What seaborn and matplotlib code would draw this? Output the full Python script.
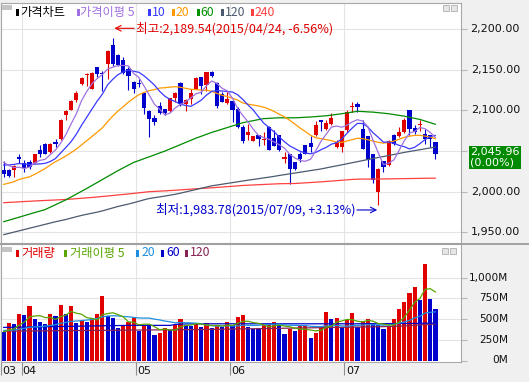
import matplotlib
matplotlib.use("Agg")
import matplotlib.pyplot as plt
import matplotlib.patches as mpatches
import matplotlib.lines as mlines
import matplotlib.transforms as mtransforms
import numpy as np
import pandas as pd
import seaborn as sns

# ---------------- data ----------------
month_labels = ["03", "04", "05", "06", "07"]
month_start_index = [0, 4, 26, 44, 66]

opens = [2027.3, 2027.3, 2027.3, 2042.4, 2035.9, 2036.7, 2035.5, 2051.0, 2059.2, 2048.9,
         2061.2, 2065.3, 2093.9, 2101.2, 2113.5, 2132.7, 2143.3, 2126.6, 2153.9, 2146.6,
         2157.2, 2180.9, 2168.6, 2162.1, 2151.1, 2135.5, 2134.3, 2121.2, 2099.2, 2090.6,
         2106.1, 2101.6, 2098.8, 2115.1, 2133.5, 2107.4, 2114.3, 2126.6, 2140.9, 2131.9,
         2147.0, 2134.3, 2120.4, 2109.0, 2111.4, 2102.0, 2079.6, 2069.4, 2062.4, 2069.4,
         2064.1, 2079.6, 2066.1, 2069.4, 2040.8, 2046.1, 2036.7, 2046.9, 2057.1, 2060.4,
         2069.4, 2087.7, 2076.7, 2082.8, 2055.1, 2055.1, 2075.5, 2104.1, 2107.4, 2076.7,
         2068.1, 2046.9, 1999.5, 2037.5, 2032.6, 2070.2, 2068.1, 2073.4, 2100.8, 2078.8,
         2081.6, 2071.4, 2069.4, 2060.8]
highs = [2037.5, 2028.5, 2032.6, 2046.9, 2038.7, 2038.7, 2047.0, 2057.1, 2060.0, 2060.0,
         2065.3, 2089.8, 2100.0, 2113.0, 2124.5, 2141.0, 2145.8, 2147.5, 2154.0, 2148.2,
         2174.3, 2189.54, 2169.0, 2165.4, 2153.1, 2136.8, 2138.8, 2122.5, 2100.0, 2093.9,
         2110.2, 2101.6, 2116.0, 2122.5, 2134.7, 2114.0, 2126.6, 2141.0, 2141.0, 2147.5,
         2149.0, 2134.7, 2122.5, 2122.5, 2112.3, 2104.1, 2081.6, 2083.7, 2068.5, 2069.5,
         2073.4, 2080.4, 2075.5, 2070.2, 2048.9, 2046.5, 2037.0, 2048.9, 2057.5, 2068.1,
         2086.9, 2088.0, 2087.7, 2096.7, 2063.2, 2075.0, 2100.0, 2111.0, 2110.2, 2087.7,
         2068.5, 2047.0, 2029.0, 2038.0, 2064.1, 2070.5, 2079.6, 2091.0, 2101.0, 2081.6,
         2088.6, 2077.5, 2069.5, 2061.0]
lows = [2018.3, 2017.5, 2018.3, 2035.5, 2024.4, 2028.5, 2035.0, 2042.8, 2046.0, 2048.0,
        2055.1, 2064.1, 2087.7, 2100.0, 2110.2, 2132.0, 2130.6, 2126.0, 2140.9, 2124.5,
        2138.8, 2155.1, 2155.0, 2145.0, 2125.7, 2121.2, 2128.6, 2095.9, 2067.3, 2081.6,
        2095.9, 2093.9, 2098.0, 2110.2, 2106.1, 2099.2, 2107.4, 2126.0, 2120.4, 2124.5,
        2140.9, 2103.3, 2110.0, 2107.4, 2085.7, 2079.0, 2060.0, 2063.2, 2062.0, 2056.3,
        2057.1, 2051.0, 2056.0, 2050.2, 2035.5, 2009.3, 2027.3, 2036.7, 2046.5, 2048.9,
        2068.1, 2074.7, 2075.5, 2081.6, 2054.2, 2048.9, 2073.4, 2098.0, 2098.0, 2052.5,
        2030.6, 2010.9, 1983.78, 2024.4, 2031.4, 2057.1, 2067.3, 2072.2, 2069.4, 2071.4,
        2074.7, 2059.2, 2055.1, 2040.8]
closes = [2021.6, 2019.5, 2031.8, 2040.8, 2029.3, 2030.6, 2046.1, 2046.1, 2046.9, 2059.2,
          2059.2, 2088.6, 2099.2, 2112.3, 2121.2, 2140.0, 2144.9, 2146.6, 2144.9, 2144.9,
          2173.5, 2157.2, 2156.0, 2145.8, 2142.5, 2126.6, 2132.7, 2103.3, 2089.8, 2085.7,
          2096.7, 2097.1, 2115.1, 2121.2, 2107.4, 2113.5, 2121.2, 2140.0, 2130.6, 2147.0,
          2142.9, 2106.1, 2110.2, 2114.7, 2101.2, 2079.6, 2062.0, 2073.0, 2068.1, 2064.5,
          2065.3, 2051.8, 2056.3, 2051.0, 2042.8, 2028.5, 2028.5, 2040.8, 2046.9, 2055.1,
          2081.6, 2085.7, 2084.9, 2090.6, 2061.2, 2074.7, 2098.0, 2105.3, 2104.1, 2053.0,
          2039.5, 2015.0, 2028.5, 2030.6, 2062.4, 2059.2, 2073.4, 2088.6, 2076.7, 2073.4,
          2083.7, 2065.3, 2065.3, 2045.96]
# closes before the visible window (only used for the 5/10/20 moving averages)
earlier_closes = [1990.0, 1995.0, 1985.0, 1995.0, 2000.0, 1985.0, 1975.0, 1975.0, 1970.0,
                  1980.0, 2020.0, 2025.0, 2030.0, 2035.0, 2038.0, 2040.0, 2044.0, 2039.0,
                  2037.0]
price_ma60 = [1963.0, 1964.8, 1966.7, 1968.6, 1970.5, 1972.4, 1974.3, 1976.1, 1978.0, 1981.0,
              1984.0, 1987.0, 1990.0, 1993.5, 1997.0, 2000.5, 2004.0, 2007.7, 2011.3, 2015.0,
              2018.7, 2022.3, 2026.0, 2029.3, 2032.7, 2036.0, 2038.3, 2040.7, 2043.0, 2045.3,
              2047.7, 2050.0, 2052.7, 2055.3, 2058.0, 2060.7, 2063.3, 2066.0, 2068.3, 2070.7,
              2073.0, 2075.0, 2077.0, 2079.0, 2081.0, 2083.0, 2085.0, 2086.3, 2087.5, 2088.8,
              2090.0, 2090.3, 2090.7, 2091.0, 2091.0, 2091.0, 2091.0, 2091.3, 2091.7, 2092.0,
              2092.5, 2093.0, 2093.5, 2094.3, 2095.2, 2096.0, 2097.0, 2098.0, 2099.0, 2098.7,
              2098.3, 2098.0, 2097.3, 2096.7, 2096.0, 2095.0, 2094.0, 2093.0, 2091.7, 2090.3,
              2089.0, 2087.0, 2085.0, 2083.0]
price_ma120 = [1947.0, 1948.6, 1950.2, 1951.8, 1953.4, 1955.0, 1956.6, 1958.2, 1959.8, 1961.4,
               1963.0, 1964.4, 1965.8, 1967.5, 1969.2, 1970.8, 1972.2, 1973.5, 1974.8, 1976.4,
               1978.2, 1980.0, 1981.8, 1983.3, 1984.8, 1986.4, 1988.2, 1990.0, 1991.6, 1992.6,
               1993.6, 1994.6, 1995.7, 1996.8, 1998.2, 1999.7, 2001.2, 2002.7, 2004.2, 2005.7,
               2007.2, 2008.2, 2009.2, 2010.2, 2011.2, 2012.2, 2013.2, 2014.2, 2015.1, 2016.0,
               2017.0, 2017.9, 2018.9, 2020.0, 2021.0, 2022.0, 2023.0, 2024.0, 2025.0, 2026.0,
               2027.0, 2028.0, 2029.3, 2030.6, 2031.8, 2033.1, 2034.4, 2035.7, 2037.0, 2038.3,
               2039.6, 2040.9, 2042.1, 2043.3, 2044.6, 2045.8, 2047.1, 2048.4, 2049.5, 2050.6,
               2051.7, 2052.8, 2053.9, 2055.0]
price_ma240 = [1986.4, 1986.8, 1987.1, 1987.5, 1987.9, 1988.2, 1988.6, 1988.9, 1989.2, 1989.5,
               1989.8, 1990.1, 1990.4, 1990.9, 1991.4, 1991.9, 1992.4, 1992.9, 1993.5, 1994.1,
               1994.7, 1995.3, 1996.0, 1996.6, 1997.2, 1997.9, 1998.6, 1999.3, 2000.0, 2000.3,
               2000.7, 2001.0, 2001.4, 2001.8, 2002.2, 2002.7, 2003.1, 2003.6, 2004.0, 2004.4,
               2004.8, 2005.3, 2005.7, 2006.2, 2006.7, 2007.2, 2007.7, 2008.0, 2008.3, 2008.6,
               2008.9, 2009.2, 2009.5, 2009.8, 2009.9, 2010.0, 2010.1, 2010.5, 2010.9, 2011.3,
               2011.7, 2012.1, 2012.6, 2013.1, 2013.6, 2014.1, 2014.6, 2015.1, 2015.4, 2015.5,
               2015.5, 2015.6, 2015.6, 2015.7, 2015.8, 2015.9, 2016.0, 2016.1, 2016.2, 2016.3,
               2016.4, 2016.5, 2016.6, 2016.7]

volumes = [345, 452, 440, 560, 548, 655, 500, 464, 440, 560,
           536, 667, 560, 655, 452, 476, 464, 512, 560, 774,
           536, 516, 401, 429, 468, 520, 361, 437, 433, 317,
           341, 401, 369, 429, 508, 437, 421, 448, 409, 456,
           401, 429, 409, 468, 429, 528, 556, 409, 389, 385,
           429, 448, 468, 429, 329, 389, 361, 417, 420, 278,
           341, 397, 587, 500, 516, 409, 488, 571, 409, 476,
           500, 440, 429, 381, 417, 500, 619, 702, 821, 881,
           726, 1167, 738, 619]
earlier_volumes = [380, 390, 360, 350, 400, 420, 380, 360, 370, 350,
                   330, 360, 400, 380, 360, 350, 370, 340, 360]
vol_ma60 = [405, 406, 407, 408, 409, 410, 411, 412, 413, 414,
            415, 416, 417, 418, 419, 420, 421, 422, 423, 424,
            425, 426, 427, 428, 429, 429, 429, 429, 429, 429,
            429, 429, 429, 440, 444, 446, 447, 447, 447, 448,
            448, 448, 448, 448, 448, 448, 448, 448, 448, 448,
            448, 448, 448, 448, 448, 448, 448, 448, 448, 448,
            448, 448, 448, 448, 448, 448, 448, 448, 448, 448,
            449, 449, 449, 450, 450, 451, 451, 452, 452, 453,
            454, 455, 456, 456]
vol_ma120 = [360, 361, 361, 362, 362, 363, 363, 364, 364, 365, 365, 366, 366, 367, 367, 368, 368, 369, 369, 370,
             370, 371, 371, 372, 372, 373, 373, 374, 374, 375, 375, 376, 376, 377, 377, 378, 378, 379, 379, 380,
             381, 382, 383, 384, 385, 386, 387, 388, 389, 390, 391, 392, 393, 394, 395, 396, 397, 398, 399, 400,
             401, 402, 403, 404, 405, 406, 407, 408, 409, 410, 411, 412, 413, 414, 416, 418, 420, 423, 426, 430,
             434, 438, 442, 446]

high_date = "2015/04/24"
low_date = "2015/07/09"
change_label = "(0.00%)"
price_ticks = [1950, 2000, 2050, 2100, 2150, 2200]
volume_ticks = [250, 500, 750, 1000]
volume_label_ticks = [0, 250, 500, 750, 1000]

# ---------------- style ----------------
sns.set_style("white")
plt.rcParams["font.family"] = ["Noto Sans CJK KR", "DejaVu Sans"]

W, H = 529, 382
fig = plt.figure(figsize=(W / 100, H / 100), dpi=100, facecolor="#f0f0f0")


def fx(x):
    return x / W


def fy(y):
    return 1 - y / H


RED = "#e00000"
BLUE = "#0000cc"
GRID = "#e4e4e4"
SPINE = "#a8a8a8"
C5, C10, C20, C60, C120, C240 = "#a070e0", "#3a3aff", "#ff9900", "#008a00", "#4b5a6e", "#ff4040"

ax = fig.add_axes([fx(0.5), fy(243), (461 - 0.5) / W, 240 / H])
axv = fig.add_axes([fx(0.5), fy(362), (461 - 0.5) / W, 118 / H])

n = len(closes)
idx = np.arange(n)
O = np.array(opens); Hh = np.array(highs); L = np.array(lows); C = np.array(closes)

for a in (ax, axv):
    a.set_facecolor("white")
    a.set_xlim(-0.58, 87.9)
    for s in a.spines.values():
        s.set_color(SPINE)
        s.set_linewidth(0.8)
    for m in month_start_index:
        a.axvline(m - 0.5, color=GRID, lw=0.8, zorder=0)

ax.set_ylim(1936.8, 2232.4)
axv.set_ylim(-8, 1400)
for t in price_ticks:
    ax.axhline(t, color=GRID, lw=0.8, zorder=0)
for t in volume_ticks:
    axv.axhline(t, color=GRID, lw=0.8, zorder=0)

# candles
up = C >= O
ccol = np.where(up, RED, BLUE)
ax.vlines(idx, L, Hh, colors=ccol, lw=0.8, zorder=2)
body_lo = np.minimum(O, C)
body_h = np.maximum(np.abs(C - O), 1.3)
ax.bar(idx, body_h, bottom=body_lo, width=0.8, color=ccol, lw=0, zorder=2)

# price moving averages
all_c = pd.Series(earlier_closes + closes)
k = len(earlier_closes)
ma = {
    5: all_c.rolling(5).mean().iloc[k:].values,
    10: all_c.rolling(10).mean().iloc[k:].values,
    20: all_c.rolling(20).mean().iloc[k:].values,
    60: np.array(price_ma60),
    120: np.array(price_ma120),
    240: np.array(price_ma240),
}
for p, col in [(240, C240), (120, C120), (60, C60), (20, C20), (10, C10), (5, C5)]:
    sns.lineplot(x=idx, y=ma[p], ax=ax, color=col, lw=0.9, legend=False, zorder=3)

# volume bars
vol = np.array(volumes, dtype=float)
prev = np.concatenate([[earlier_volumes[-1]], vol[:-1]])
vcol = np.where(vol >= prev, RED, BLUE)
axv.bar(idx, vol, width=0.8, color=vcol, lw=0, zorder=2)
all_v = pd.Series(earlier_volumes + volumes, dtype=float)
kv = len(earlier_volumes)
vma5 = all_v.rolling(5).mean().iloc[kv:].values
vma20 = all_v.rolling(20).mean().iloc[kv:].values
for y, col in [(np.array(vol_ma120), "#882255"), (np.array(vol_ma60), "#0000cc"),
               (vma20, "#1e8fe0"), (vma5, "#5aa500")]:
    sns.lineplot(x=idx, y=y, ax=axv, color=col, lw=0.9, legend=False, zorder=3)

# axes ticks
for a in (ax, axv):
    a.set_xlabel(""); a.set_ylabel("")
    a.tick_params(axis="y", left=False, right=True, labelleft=False, labelright=False,
                  length=4, width=0.8, color="#b8b8b8", direction="out")
ax.set_yticks(price_ticks)
axv.set_yticks(volume_label_ticks)
ax.set_xticks([])
axv.set_xticks([m - 0.5 for m in month_start_index])
axv.tick_params(axis="x", bottom=True, labelbottom=False, length=9, width=0.8,
                color="#909090", direction="out")

tr_p = mtransforms.blended_transform_factory(ax.transAxes, ax.transData)
for t in price_ticks:
    ax.text(520 / 461, t, f"{t:,.2f}", transform=tr_p, ha="right", va="center",
            fontsize=8, family="DejaVu Sans", color="#111111", clip_on=False, zorder=1)
tr_v = mtransforms.blended_transform_factory(axv.transAxes, axv.transData)
for t in volume_label_ticks:
    axv.text(508 / 461, t + (12 if t == 0 else 0), f"{t:,}M", transform=tr_v, ha="right",
             va="center", fontsize=7.6, family="DejaVu Sans", color="#111111", clip_on=False)

# month labels
for lab, m in zip(month_labels, month_start_index):
    xpix = 3 + 5.21 * (m - 0.5)
    fig.text(fx(max(xpix, 0.5) + 1.5), fy(371), lab, ha="left", va="center",
             fontsize=8, family="DejaVu Sans", color="#111111")

# last price box
last = closes[-1]
ax.text(470 / 461, last - 3.5, f"{last:,.2f}\n{change_label}", transform=tr_p,
        ha="left", va="center", fontsize=8, family="DejaVu Sans", color="white",
        linespacing=1.0, clip_on=False, zorder=10,
        bbox=dict(boxstyle="square,pad=0.12", fc="#008a00", ec="none"))

# high / low annotations
hi_i = int(np.argmax(Hh)); hi_v = Hh[hi_i]
lo_i = int(np.argmin(L)); lo_v = L[lo_i]
hi_pct = (last - hi_v) / hi_v * 100
lo_pct = (last - lo_v) / lo_v * 100
hy = hi_v + 11.7
ax.annotate("", xy=(hi_i + 0.3, hy), xytext=(hi_i + 4.1, hy),
            arrowprops=dict(arrowstyle="->", color=RED, lw=0.8, shrinkA=0, shrinkB=0))
ax.text(hi_i + 4.4, hy, f"최고:{hi_v:,.2f}({high_date}, {hi_pct:+.2f}%)", color=RED,
        fontsize=9.1, ha="left", va="center")
ly = lo_v - 6.3
ax.annotate("", xy=(lo_i - 0.2, ly), xytext=(lo_i - 4.1, ly),
            arrowprops=dict(arrowstyle="->", color=BLUE, lw=0.8, shrinkA=0, shrinkB=0))
ax.text(lo_i - 4.4, ly, f"최저:{lo_v:,.2f}({low_date}, {lo_pct:+.2f}%)", color=BLUE,
        fontsize=9.1, ha="right", va="center")

# legends (header rows)
def legend_row(ypix, items, gray_y):
    fig.patches.append(mpatches.Rectangle((fx(2), fy(gray_y + 5)), 10 / W, 5 / H,
                                          transform=fig.transFigure, fc="#c4c4c4", ec="none"))
    for mark_x, text_x, txt, col in items:
        if mark_x is not None:
            fig.patches.append(mpatches.Rectangle((fx(mark_x), fy(ypix + 3.5)), 2.5 / W, 7 / H,
                                                  transform=fig.transFigure, fc=col, ec="none"))
        fig.text(fx(text_x), fy(ypix), txt, color=col, fontsize=8.8, ha="left", va="center")


legend_row(12.5, [(16, 20.5, "가격차트", "#000000"),
                  (77, 80.5, "가격이평 5", C5),
                  (148, 151.5, "10", C10),
                  (172, 176, "20", C20),
                  (197, 200.5, "60", "#009000"),
                  (221, 225, "120", C120),
                  (251, 255, "240", C240)], 5)
legend_row(253, [(16, 21.5, "거래량", RED),
                 (64, 70, "거래이평 5", "#5aa500"),
                 (136, 141.5, "20", "#1e8fe0"),
                 (161, 166.5, "60", "#0000cc"),
                 (185, 189.5, "120", "#882255")], 247)

# window buttons
for bx, by in [(443, 5), (451, 5), (442, 248), (450, 248)]:
    fig.patches.append(mpatches.Rectangle((fx(bx), fy(by + 6)), 6 / W, 6 / H,
                                          transform=fig.transFigure, fc="#e6e6e6", ec="#b0b0b0", lw=0.6))

# separator between panels
fig.lines.append(mlines.Line2D([0, 1], [fy(243.8), fy(243.8)], transform=fig.transFigure,
                               color="#a0a0a0", lw=1.4))

fig.savefig("out.png", dpi=100, facecolor=fig.get_facecolor())
